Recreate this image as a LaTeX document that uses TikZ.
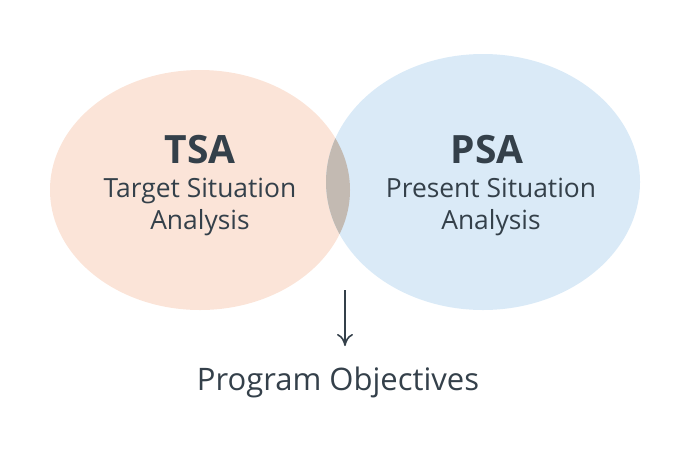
\documentclass[tikz,border=0pt]{standalone}
\usepackage{fontspec}
\setmainfont{Open Sans}
\usetikzlibrary{arrows.meta}
\definecolor{tsa}{HTML}{FBE4D8}
\definecolor{psa}{HTML}{DAEAF7}
\definecolor{ovl}{HTML}{C3BAB2}
\definecolor{txt}{HTML}{34404A}
\tikzset{big/.style={font=\fontsize{19.5}{22}\selectfont\bfseries,text=txt},
sub/.style={font=\fontsize{13.2}{16}\selectfont,text=txt,align=center}}
\begin{document}
\begin{tikzpicture}[x=0.5pt,y=-0.5pt]
\useasboundingbox (0,0) rectangle (700,467);
\fill[tsa] (200,190) ellipse [x radius=150,y radius=120];
\fill[psa] (483,182) ellipse [x radius=157,y radius=128];
\begin{scope}
\clip (200,190) ellipse [x radius=150,y radius=120];
\fill[ovl] (483,182) ellipse [x radius=157,y radius=128];
\end{scope}
\node[big] (t) at (200,150) {TSA};
\node[sub] (ts) at (200,207) {Target Situation\\Analysis};
\node[big] (p) at (487,150) {PSA};
\node[sub] (ps) at (491,207) {Present Situation\\Analysis};
\coordinate (a) at (345,290);
\node[font=\fontsize{15.5}{18}\selectfont,text=txt] (o) at (338,382) {Program Objectives};
\draw[txt,line width=0.8pt,-{To[length=6pt,width=8pt]}] (a) -- (345,346);
\end{tikzpicture}
\end{document}
